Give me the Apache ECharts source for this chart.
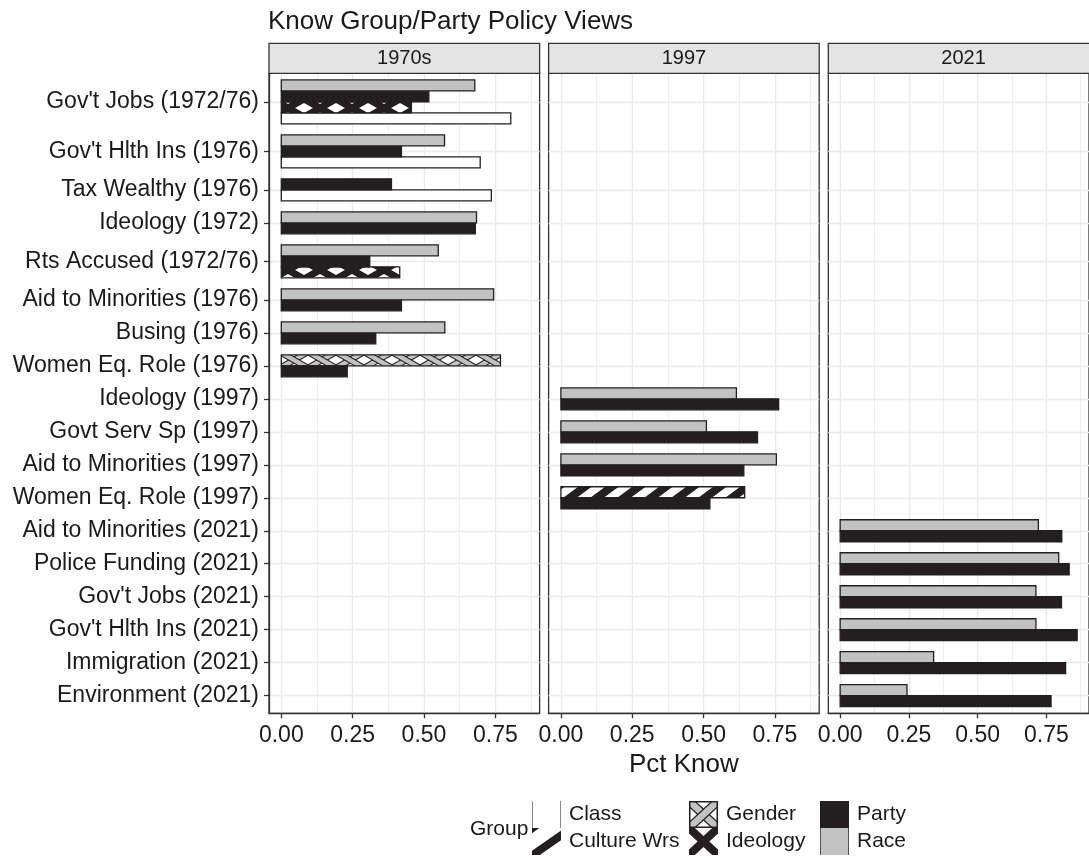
<!DOCTYPE html>
<html><head><meta charset="utf-8">
<script src="https://cdn.jsdelivr.net/npm/echarts@6/dist/echarts.min.js"></script>
<style>html,body{margin:0;padding:0;background:#fff}#chart{width:1089px;height:861px}</style>
</head><body><div id="chart"></div>
<script>
// ---------------- DATA ----------------
const categories = [
  "Gov't Jobs (1972/76)", "Gov't Hlth Ins (1976)", "Tax Wealthy (1976)", "Ideology (1972)",
  "Rts Accused (1972/76)", "Aid to Minorities (1976)", "Busing (1976)", "Women Eq. Role (1976)",
  "Ideology (1997)", "Govt Serv Sp (1997)", "Aid to Minorities (1997)", "Women Eq. Role (1997)",
  "Aid to Minorities (2021)", "Police Funding (2021)", "Gov't Jobs (2021)", "Gov't Hlth Ins (2021)",
  "Immigration (2021)", "Environment (2021)"
];
const categoryPanel = [0,0,0,0,0,0,0,0, 1,1,1,1, 2,2,2,2,2,2];
const panelNames = ['1970s', '1997', '2021'];
const groups = ['Class', 'Culture Wrs', 'Gender', 'Ideology', 'Party', 'Race'];
const classVals    = [0.804,0.697,0.736,null,null,null,null,null, null,null,null,null, null,null,null,null,null,null];
const cultureVals  = [null,null,null,null,null,null,null,null, null,null,null,0.644, null,null,null,null,null,null];
const genderVals   = [null,null,null,null,null,null,null,0.768, null,null,null,null, null,null,null,null,null,null];
const ideologyVals = [0.456,null,null,null,0.415,null,null,null, null,null,null,null, null,null,null,null,null,null];
const partyVals    = [0.517,0.421,0.386,0.680,0.310,0.421,0.331,0.231, 0.763,0.689,0.641,0.522, 0.806,0.833,0.805,0.862,0.820,0.767];
const raceVals     = [0.678,0.572,null,0.684,0.550,0.744,0.573,null, 0.615,0.510,0.755,null, 0.721,0.795,0.712,0.712,0.340,0.243];
const xTicks = [0, 0.25, 0.5, 0.75];
const xMinorTicks = [0.125, 0.375, 0.625, 0.875];
const stackTopToBottom = ['Race', 'Gender', 'Culture Wrs', 'Party', 'Ideology', 'Class'];

// ---------------- LAYOUT (dodged slots) ----------------
const valsByGroup = {'Class': classVals, 'Culture Wrs': cultureVals, 'Gender': genderVals,
  'Ideology': ideologyVals, 'Party': partyVals, 'Race': raceVals};
const slots = {}; groups.forEach(g => slots[g] = []);
const centers = [];
let cursor = 0;
categories.forEach((c, i) => {
  const present = stackTopToBottom.filter(g => valsByGroup[g][i] != null);
  present.forEach((g, j) => { slots[g][i] = cursor + j; });
  centers.push(cursor + present.length / 2);
  cursor += present.length + 1;
});
const yMin = -0.6, yMax = (cursor - 1) + 0.6;
let maxVal = 0; groups.forEach(g => valsByGroup[g].forEach(v => { if (v != null && v > maxVal) maxVal = v; }));
const xMin = -0.05 * maxVal, xMax = 1.05 * maxVal;

// ---------------- STYLE ----------------
const FONT = "'Liberation Sans', Arial, Helvetica, sans-serif";
const INK = '#231f20', GRAY = '#c2c2c2', TXT = '#1a1a1a', AX = '#333333';

function mkCanvas(w, h) { const c = document.createElement('canvas'); c.width = w; c.height = h; return c; }
function stripeTile(W, H, lw, fg, bg, dirs, outline) {
  const c = mkCanvas(W, H), x = c.getContext('2d');
  x.fillStyle = bg; x.fillRect(0, 0, W, H);
  x.lineCap = 'butt';
  dirs.forEach(d => {
    const draw = (col, w) => {
      x.strokeStyle = col; x.lineWidth = w;
      for (let k = -2; k <= 2; k++) {
        for (let m = -1; m <= 1; m++) {
          x.beginPath();
          if (d === '/') { x.moveTo(k * W, H + m * H); x.lineTo(k * W + W, m * H); }
          else { x.moveTo(k * W, m * H); x.lineTo(k * W + W, H + m * H); }
          x.stroke();
        }
      }
    };
    if (outline) draw(outline, lw + 2);
    draw(fg, lw);
  });
  return {image: c, repeat: 'repeat'};
}
const fills = {
  'Class': '#ffffff',
  'Culture Wrs': stripeTile(27, 20, 8, INK, '#ffffff', ['/']),
  'Gender': stripeTile(28, 16, 4.5, GRAY, '#ffffff', ['/', '\\'], INK),
  'Ideology': stripeTile(32, 18, 7, INK, '#ffffff', ['/', '\\']),
  'Party': INK,
  'Race': GRAY
};

// legend key images
function keyImg(g) {
  const W = 29, H = 27, c = mkCanvas(W, H), x = c.getContext('2d');
  x.fillStyle = '#fff'; x.fillRect(0, 0, W, H);
  if (g === 'Class') {
    x.strokeStyle = '#888'; x.lineWidth = 1;
    x.beginPath(); x.moveTo(0.5, 0); x.lineTo(0.5, H); x.moveTo(W - 0.5, 0); x.lineTo(W - 0.5, H); x.stroke();
  } else if (g === 'Culture Wrs') {
    x.strokeStyle = INK; x.lineWidth = 8;
    x.beginPath(); x.moveTo(-2, H + 2); x.lineTo(W + 2, 6); x.stroke();
    x.lineWidth = 5; x.beginPath(); x.moveTo(-4, 5); x.lineTo(6, -2); x.stroke();
  } else if (g === 'Gender') {
    [[0, 0, W, H], [W, 0, 0, H]].forEach(l => {
      x.strokeStyle = INK; x.lineWidth = 9; x.beginPath(); x.moveTo(l[0], l[1]); x.lineTo(l[2], l[3]); x.stroke();
      x.strokeStyle = GRAY; x.lineWidth = 6.5; x.beginPath(); x.moveTo(l[0], l[1]); x.lineTo(l[2], l[3]); x.stroke();
    });
    x.strokeStyle = INK; x.lineWidth = 1.5; x.strokeRect(0.75, 0.75, W - 1.5, H - 1.5);
  } else if (g === 'Ideology') {
    x.strokeStyle = INK; x.lineWidth = 8;
    x.beginPath(); x.moveTo(0, 0); x.lineTo(W, H); x.moveTo(W, 0); x.lineTo(0, H); x.stroke();
  } else if (g === 'Party') {
    x.fillStyle = INK; x.fillRect(0, 0, W, H);
  } else if (g === 'Race') {
    x.fillStyle = GRAY; x.fillRect(0, 0, W, H);
    x.strokeStyle = '#555'; x.lineWidth = 1;
    x.beginPath(); x.moveTo(0.5, 0); x.lineTo(0.5, H); x.moveTo(W - 0.5, 0); x.lineTo(W - 0.5, H); x.stroke();
  }
  return 'image://' + c.toDataURL();
}

// ---------------- GRIDS / AXES ----------------
const gridLefts = [269, 548.6, 828.3];
const panelW = 270.6, panelTop = 73.3, panelH = 640;
const grids = gridLefts.map(l => ({left: l, top: panelTop, width: panelW, height: panelH,
  show: true, borderColor: AX, borderWidth: 1.3, backgroundColor: '#fff', containLabel: false}));

const xAxes = [], yAxes = [];
gridLefts.forEach((l, p) => {
  xAxes.push({type: 'value', gridIndex: p, min: xMin, max: xMax, position: 'bottom',
    axisLine: {show: true, onZero: false, lineStyle: {color: AX, width: 1.3}},
    axisTick: {show: true, length: 5, lineStyle: {color: AX, width: 1.3}, customValues: xTicks},
    axisLabel: {show: true, customValues: xTicks, formatter: v => v.toFixed(2), margin: 11,
      fontSize: 23, fontFamily: FONT, color: TXT},
    splitLine: {show: true, lineStyle: {color: '#ebebeb', width: 1.4}},
    name: p === 1 ? 'Pct Know' : '', nameLocation: 'middle', nameGap: 39,
    nameTextStyle: {fontSize: 26, fontFamily: FONT, color: TXT}
  });
});
gridLefts.forEach((l, p) => {
  xAxes.push({type: 'value', gridIndex: p, min: xMin, max: xMax, position: 'top',
    axisLine: {show: false, onZero: false}, axisTick: {show: false, customValues: xMinorTicks},
    axisLabel: {show: false, customValues: xMinorTicks},
    splitLine: {show: true, lineStyle: {color: '#ebebeb', width: 0.8}}
  });
});
const nameAt = v => { const i = centers.findIndex(c => Math.abs(c - v) < 1e-6); return i >= 0 ? categories[i] : ''; };
gridLefts.forEach((l, p) => {
  yAxes.push({type: 'value', gridIndex: p, min: yMin, max: yMax, inverse: true, position: 'left',
    axisLine: {show: p === 0, onZero: false, lineStyle: {color: AX, width: 1.3}},
    axisTick: {show: p === 0, length: 5, lineStyle: {color: AX, width: 1.3}, customValues: centers},
    axisLabel: {show: p === 0, customValues: centers, formatter: nameAt, margin: 10,
      fontSize: 23, fontFamily: FONT, color: TXT},
    splitLine: {show: true, lineStyle: {color: '#ebebeb', width: 1.4}}
  });
});

// ---------------- SERIES ----------------
const series = [];
[0, 1, 2].forEach(p => {
  groups.forEach(g => {
    const data = [];
    categories.forEach((c, i) => {
      if (categoryPanel[i] === p && valsByGroup[g][i] != null) data.push([valsByGroup[g][i], slots[g][i]]);
    });
    if (!data.length) return;
    series.push({
      type: 'custom', name: g, xAxisIndex: p, yAxisIndex: p, data: data,
      encode: {x: 0, y: 1}, itemStyle: {color: typeof fills[g] === 'string' ? fills[g] : '#888'},
      renderItem: (params, api) => {
        const v = api.value(0), s = api.value(1);
        const a = api.coord([0, s]), b = api.coord([v, s + 1]);
        return {type: 'rect',
          shape: {x: a[0], y: Math.min(a[1], b[1]), width: b[0] - a[0], height: Math.abs(b[1] - a[1])},
          style: {fill: fills[g], stroke: INK, lineWidth: 1.3}};
      }
    });
  });
});

// ---------------- STRIPS, TITLE, LEGEND ----------------
const graphics = [];
gridLefts.forEach((l, p) => {
  graphics.push({type: 'rect', shape: {x: l, y: 43.3, width: panelW, height: 30},
    style: {fill: '#e4e4e4', stroke: AX, lineWidth: 1.3}, z: 10});
  graphics.push({type: 'text', x: l + panelW / 2, y: 58.3,
    style: {text: panelNames[p], fontSize: 20, fontFamily: FONT, fill: TXT, align: 'center', verticalAlign: 'middle'}, z: 11});
});
graphics.push({type: 'text', x: 470, y: 829,
  style: {text: 'Group', fontSize: 21, fontFamily: FONT, fill: TXT, align: 'left', verticalAlign: 'middle'}});

const legendCols = [['Class', 'Culture Wrs'], ['Gender', 'Ideology'], ['Party', 'Race']];
const legendLefts = [532, 689, 820];
const legends = legendCols.map((names, k) => ({
  left: legendLefts[k], top: 801, orient: 'vertical', padding: 0, itemGap: 0,
  itemWidth: 29, itemHeight: 27, selectedMode: false,
  data: names.map(n => ({name: n, icon: keyImg(n)})),
  textStyle: {fontSize: 21, fontFamily: FONT, color: TXT, padding: [0, 0, 0, 3]}
}));

const chart = echarts.init(document.getElementById('chart'), null, {renderer: 'canvas'});
chart.setOption({
  animation: false,
  backgroundColor: '#fff',
  title: {text: 'Know Group/Party Policy Views', left: 268, top: 9, padding: 0,
    textStyle: {fontSize: 26, fontWeight: 'normal', fontFamily: FONT, color: TXT}},
  grid: grids, xAxis: xAxes, yAxis: yAxes, series: series,
  legend: legends, graphic: graphics
});
</script></body></html>
